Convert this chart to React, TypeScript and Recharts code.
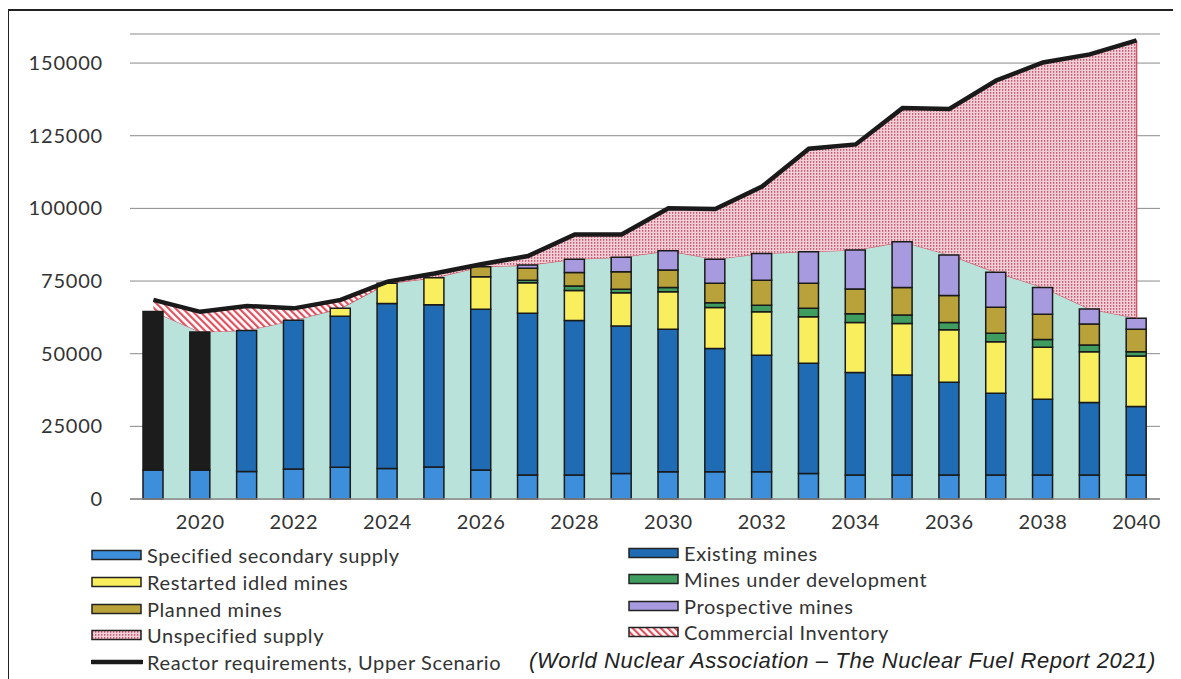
import React from 'react';
import { ComposedChart, Bar, Area, Line, XAxis, YAxis, CartesianGrid, Cell, ReferenceLine } from 'recharts';

const years = ['2019','2020','2021','2022','2023','2024','2025','2026','2027','2028','2029','2030','2031','2032','2033','2034','2035','2036','2037','2038','2039','2040'];
const secondary = [10000,10000,9500,10300,10900,10500,11000,10000,8300,8300,8800,9400,9400,9400,8800,8300,8300,8300,8300,8300,8300,8300];
const existing = [54500,47500,48500,51200,52000,56800,55800,55300,55600,53100,50700,49000,42400,40100,37900,35200,34400,31900,28100,26000,24900,23500];
const restarted = [0,0,0,0,2700,6900,9300,11200,10500,10300,11500,12900,14100,14900,16000,17200,17700,18000,17700,17900,17500,17400];
const underDev = [0,0,0,0,0,0,0,0,900,1600,1200,1500,1600,2300,2900,3000,2900,2500,2900,2700,2300,1500];
const planned = [0,0,0,0,0,0,0,3400,4100,4600,6000,6000,6700,8600,8600,8600,9500,9300,9000,8700,7200,7700];
const prospective = [0,0,0,0,0,0,0,0,1100,4600,5000,6600,8300,9200,10900,13400,15700,14000,12000,9200,5200,3800];
const requirement = [68500,64400,66400,65600,68500,74800,77600,80800,83600,91000,91000,100000,99800,107500,120500,122000,134500,134200,144000,150200,153000,157800];
const inventory = [4000,6900,8400,4100,2900,600,0,0,0,0,0,0,0,0,0,0,0,0,0,0,0,0];
const historicYears = ['2019','2020'];
const yTicks = [0,25000,50000,75000,100000,125000,150000];

const C = {
  secondary: '#3d8fdc',
  existing: '#1f6cb5',
  historic: '#1c1c1c',
  restarted: '#f8ee5e',
  underDev: '#3f9e5f',
  planned: '#b9a23a',
  prospective: '#a79ade',
  teal: '#b9e3da',
  supplyLine: '#d05466',
  req: '#1a1a1a',
  edge: '#1a1a1a',
};

const data = years.map((y, i) => {
  const supply = secondary[i] + existing[i] + restarted[i] + underDev[i] + planned[i] + prospective[i];
  return {
    year: y,
    secondary: secondary[i],
    existing: existing[i],
    restarted: restarted[i],
    underDev: underDev[i],
    planned: planned[i],
    prospective: prospective[i],
    supply,
    inventory: inventory[i],
    unspecified: Math.max(0, requirement[i] - supply - inventory[i]),
    requirement: requirement[i],
  };
});
const last = data[data.length - 1];

const font = 'Lato, "Open Sans", sans-serif';

const Patterns = () => (
  <svg width="0" height="0" style={{ position: 'absolute' }}>
    <defs>
      <pattern id="dots" width="3" height="3" patternUnits="userSpaceOnUse">
        <rect width="3" height="3" fill="#f2cfd7" />
        <rect x="1" y="0" width="1.3" height="1.8" fill="#c85a72" />
      </pattern>
      <pattern id="hatch" width="5" height="5" patternUnits="userSpaceOnUse" patternTransform="rotate(-45)">
        <rect width="5" height="5" fill="#ffffff" />
        <rect x="0" y="0" width="2.2" height="5" fill="#e0505e" />
      </pattern>
    </defs>
  </svg>
);

const Swatch = ({ fill, line }: { fill?: string; line?: boolean }) => (
  <svg width="52" height="14" style={{ display: 'block' }}>
    {line ? (
      <line x1="1" y1="7" x2="51" y2="7" stroke="#1a1a1a" strokeWidth="4.5" strokeLinecap="round" />
    ) : (
      <rect x="1" y="2.5" width="49" height="9" fill={fill} stroke="#222" strokeWidth="1.5" />
    )}
  </svg>
);

const legendLeft = [
  { label: 'Specified secondary supply', fill: C.secondary },
  { label: 'Restarted idled mines', fill: C.restarted },
  { label: 'Planned mines', fill: C.planned },
  { label: 'Unspecified supply', fill: 'url(#dots)' },
  { label: 'Reactor requirements, Upper Scenario', line: true },
];
const legendRight = [
  { label: 'Existing mines', fill: C.existing },
  { label: 'Mines under development', fill: C.underDev },
  { label: 'Prospective mines', fill: C.prospective },
  { label: 'Commercial Inventory', fill: 'url(#hatch)' },
];

const LegendItem = ({ item, x, y }: { item: any; x: number; y: number }) => (
  <div style={{ position: 'absolute', left: x, top: y - 12, height: 24, display: 'flex', alignItems: 'center', fontFamily: font, fontSize: 20, letterSpacing: 0.6, color: '#333', whiteSpace: 'nowrap' }}>
    <Swatch fill={item.fill} line={item.line} />
    <span style={{ marginLeft: 4 }}>{item.label}</span>
  </div>
);

export default function App() {
  return (
    <div style={{ position: 'relative', width: 1165, height: 671, fontFamily: font }}>
      <Patterns />
      <div style={{ position: 'absolute', left: -1, top: 1, width: 1170, height: 700, borderLeft: '2px solid #222', borderTop: '2px solid #222', borderRight: '1px solid #ddd', boxSizing: 'border-box' }} />
      <div style={{ position: 'absolute', left: 0, top: 0 }}>
        <ComposedChart width={1165} height={541} data={data} margin={{ top: 26, right: 13, left: 0, bottom: 0 }} barCategoryGap={0}>
          <CartesianGrid vertical={false} stroke="#8a8a8a" strokeWidth={1} />
          <XAxis
            dataKey="year"
            interval={0}
            tickSize={0}
            tickMargin={16}
            height={50}
            axisLine={{ stroke: '#8a8a8a', strokeWidth: 1.5 }}
            tickLine={false}
            tick={{ fill: '#333', fontSize: 20, fontFamily: font, letterSpacing: 0.6 }}
            tickFormatter={(v: string) => (Number(v) % 2 === 0 ? v : '')}
          />
          <YAxis
            domain={[0, 160000]}
            ticks={yTicks}
            width={122}
            tickSize={0}
            tickMargin={27}
            axisLine={false}
            tickLine={false}
            tick={{ fill: '#333', fontSize: 20, fontFamily: font, letterSpacing: 0.8 }}
          />
          <Area type="linear" dataKey="supply" stackId="a" fill={C.teal} fillOpacity={1} stroke={C.supplyLine} strokeWidth={1.2} isAnimationActive={false} />
          <Area type="linear" dataKey="inventory" stackId="a" fill="url(#hatch)" fillOpacity={1} stroke="none" isAnimationActive={false} />
          <Area type="linear" dataKey="unspecified" stackId="a" fill="url(#dots)" fillOpacity={1} stroke="none" isAnimationActive={false} />
          <ReferenceLine segment={[{ x: last.year, y: last.supply }, { x: last.year, y: last.requirement }]} stroke={C.supplyLine} strokeWidth={1.5} />
          <Bar dataKey="secondary" stackId="b" barSize={20} fill={C.secondary} stroke={C.edge} strokeWidth={1.5} isAnimationActive={false} />
          <Bar dataKey="existing" stackId="b" barSize={20} fill={C.existing} stroke={C.edge} strokeWidth={1.5} isAnimationActive={false}>
            {data.map((d) => (
              <Cell key={d.year} fill={historicYears.includes(d.year) ? C.historic : C.existing} />
            ))}
          </Bar>
          <Bar dataKey="restarted" stackId="b" barSize={20} fill={C.restarted} stroke={C.edge} strokeWidth={1.5} isAnimationActive={false} />
          <Bar dataKey="underDev" stackId="b" barSize={20} fill={C.underDev} stroke={C.edge} strokeWidth={1.5} isAnimationActive={false} />
          <Bar dataKey="planned" stackId="b" barSize={20} fill={C.planned} stroke={C.edge} strokeWidth={1.5} isAnimationActive={false} />
          <Bar dataKey="prospective" stackId="b" barSize={20} fill={C.prospective} stroke={C.edge} strokeWidth={1.5} isAnimationActive={false} />
          <Line type="linear" dataKey="requirement" stroke={C.req} strokeWidth={4.5} dot={false} isAnimationActive={false} />
        </ComposedChart>
      </div>
      {legendLeft.map((it, i) => (
        <LegendItem key={it.label} item={it} x={83} y={547 + i * 26.8} />
      ))}
      {legendRight.map((it, i) => (
        <LegendItem key={it.label} item={it} x={620} y={545 + i * 26.3} />
      ))}
      <div style={{ position: 'absolute', left: 521, top: 640, fontFamily: '"Liberation Sans", Arial, sans-serif', fontStyle: 'italic', fontSize: 22, letterSpacing: 0.6, color: '#222', whiteSpace: 'nowrap' }}>
        (World Nuclear Association – The Nuclear Fuel Report 2021)
      </div>
    </div>
  );
}
